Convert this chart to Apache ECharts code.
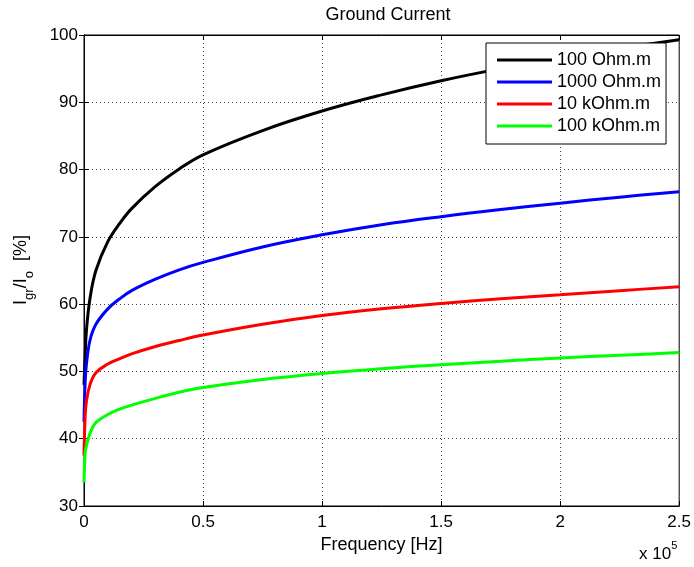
<!DOCTYPE html>
<html>
<head>
<meta charset="utf-8">
<script src="https://cdn.jsdelivr.net/npm/echarts@6/dist/echarts.min.js"></script>
<style>
  html, body { margin: 0; padding: 0; background: #fff; }
  #chart { width: 694px; height: 567px; }
</style>
</head>
<body>
<div id="chart"></div>
<script>
// frequency points [Hz]
const freqs = [0, 500, 1000, 2500, 5000, 10000, 15000, 20000, 30000, 40000, 50000,
  75000, 100000, 125000, 150000, 175000, 200000, 225000, 250000];

// ground current ratio [%] per soil resistivity
const rho100 = [48, 52.5, 56.0, 60.8, 65.0, 69.3, 72.0, 74.2, 77.5, 80.1, 82.2,
  85.8, 88.7, 91.1, 93.2, 95.0, 96.6, 98.0, 99.3];
const rho1000 = [42.5, 48.5, 51.0, 54.6, 57.0, 59.3, 60.8, 62.0, 63.7, 65.1, 66.2,
  68.5, 70.3, 71.8, 73.0, 74.05, 75.0, 75.9, 76.7];
const rho10k = [37.5, 43.5, 45.5, 48.0, 49.8, 51.1, 51.9, 52.6, 53.7, 54.6, 55.4,
  57.0, 58.3, 59.3, 60.1, 60.8, 61.4, 62.0, 62.6];
const rho100k = [33.5, 37.9, 38.9, 40.8, 42.4, 43.6, 44.4, 45.0, 46.0, 46.9, 47.6,
  48.8, 49.7, 50.4, 51.0, 51.5, 52.0, 52.4, 52.8];

const seriesNames = ['100 Ohm.m', '1000 Ohm.m', '10 kOhm.m', '100 kOhm.m'];
const seriesColors = ['#000000', '#0000ff', '#ff0000', '#00ff00'];
const seriesData = [rho100, rho1000, rho10k, rho100k];

const FONT = "'Liberation Sans', Arial, Helvetica, sans-serif";

const chart = echarts.init(document.getElementById('chart'), null, { renderer: 'canvas' });

const gridLine = { show: true, lineStyle: { color: '#444', type: [1, 3], width: 1 } };

const option = {
  backgroundColor: '#fff',
  animation: false,
  title: {
    text: 'Ground Current',
    left: 383,
    top: 1,
    textAlign: 'center',
    textStyle: { fontFamily: FONT, fontSize: 18, fontWeight: 'normal', color: '#000' }
  },
  grid: {
    left: 84, top: 35, right: 12.5, bottom: 61,
    show: true, borderColor: '#000', borderWidth: 1
  },
  legend: {
    data: seriesNames,
    orient: 'vertical',
    left: 486, top: 43,
    padding: [8, 5, 9, 11],
    backgroundColor: '#fff',
    borderColor: '#000', borderWidth: 1,
    icon: 'rect',
    itemWidth: 55, itemHeight: 3,
    itemGap: 4,
    textStyle: { fontFamily: FONT, fontSize: 18, color: '#000' }
  },
  xAxis: [
    {
      type: 'value', min: 0, max: 250000, interval: 50000,
      name: 'Frequency [Hz]', nameLocation: 'middle', nameGap: 29,
      nameTextStyle: { fontFamily: FONT, fontSize: 18, color: '#000' },
      axisLine: { onZero: false, lineStyle: { color: '#000' } },
      axisTick: { inside: true, length: 5, lineStyle: { color: '#000' } },
      axisLabel: {
        fontFamily: FONT, fontSize: 17, color: '#000', margin: 8,
        formatter: v => String(v / 1e5)
      },
      splitLine: gridLine
    },
    {
      type: 'value', min: 0, max: 250000, interval: 50000, position: 'top',
      axisLine: { lineStyle: { color: '#000' } },
      axisTick: { inside: true, length: 5, lineStyle: { color: '#000' } },
      axisLabel: { show: false }, splitLine: { show: false }
    }
  ],
  yAxis: [
    {
      type: 'value', min: 30, max: 100, interval: 10,
      axisLine: { show: true, onZero: false, lineStyle: { color: '#000' } },
      axisTick: { show: true, inside: true, length: 5, lineStyle: { color: '#000' } },
      axisLabel: { fontFamily: FONT, fontSize: 17, color: '#000', margin: 6 },
      splitLine: gridLine
    },
    {
      type: 'value', min: 30, max: 100, interval: 10, position: 'right',
      axisLine: { show: true, lineStyle: { color: '#000' } },
      axisTick: { show: true, inside: true, length: 5, lineStyle: { color: '#000' } },
      axisLabel: { show: false }, splitLine: { show: false }
    }
  ],
  graphic: [
    {
      type: 'text', left: 639, top: 540,
      style: {
        text: '{a|x 10}{b|5}',
        rich: {
          a: { fontFamily: FONT, fontSize: 17, fill: '#000', padding: [8, 0, 0, 0] },
          b: { fontFamily: FONT, fontSize: 11, fill: '#000', padding: [0, 0, 9, 0] }
        }
      }
    },
    {
      type: 'text', x: 25, y: 270, rotation: Math.PI / 2,
      style: {
        text: '{a|I}{s|gr}{a|/I}{s|o}{a|  [%]}',
        align: 'center', verticalAlign: 'middle',
        rich: {
          a: { fontFamily: FONT, fontSize: 18, fill: '#000', padding: [0, 0, 7, 0] },
          s: { fontFamily: FONT, fontSize: 13, fill: '#000', padding: [9, 0, 0, 0] }
        }
      }
    }
  ],
  series: seriesNames.map((name, i) => ({
    name,
    type: 'line',
    data: freqs.map((f, k) => [f, seriesData[i][k]]),
    smooth: 0.4,
    symbol: 'none',
    lineStyle: { color: seriesColors[i], width: 3 },
    itemStyle: { color: seriesColors[i] }
  }))
};

chart.setOption(option);
</script>
</body>
</html>
